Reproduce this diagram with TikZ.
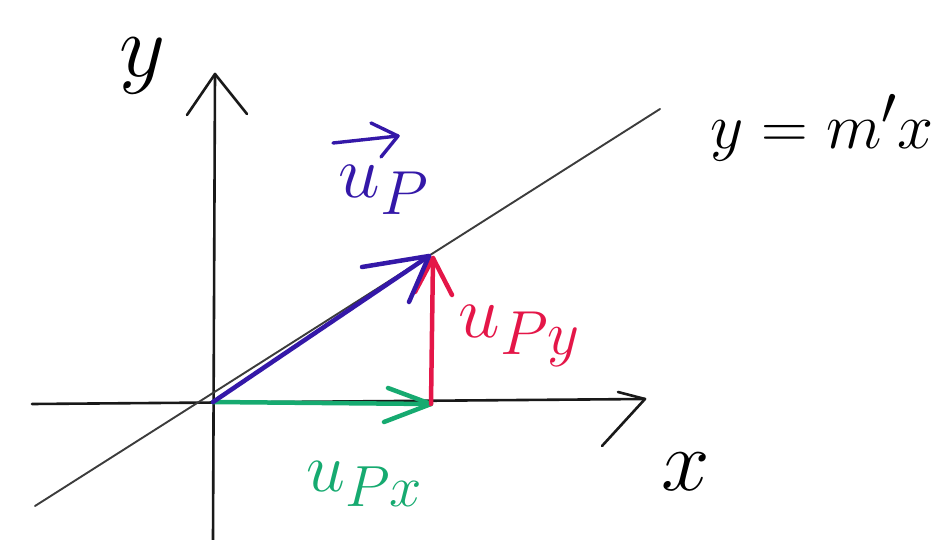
\documentclass[tikz,border=0pt]{standalone}
\usepackage{amsmath}
\definecolor{vblue}{RGB}{52,24,168}
\definecolor{vred}{RGB}{228,22,72}
\definecolor{vgreen}{RGB}{22,170,112}
\definecolor{ink}{RGB}{25,25,25}
\tikzset{
  axis/.style={draw=ink,line width=2.6pt,line cap=round,line join=round},
  guide/.style={draw=ink!85,line width=1.9pt,line cap=round},
  vec/.style={line width=4.5pt,line cap=round,line join=round},
  lab/.style={font=\Huge,inner sep=0pt},
}
\begin{document}
\begin{tikzpicture}[x=1pt,y=-1pt]
\useasboundingbox (0,0) rectangle (932,540);
% key points
\coordinate (O) at (213,402);
\coordinate (P) at (429,256);
\coordinate (Q) at (431,404);
\coordinate (xl) at (32,404);
\coordinate (xt) at (645,399);
\coordinate (yb) at (213,540);
\coordinate (yt) at (215,74);
\coordinate (la) at (35,506);
\coordinate (lb) at (660,109);
% barbs
\coordinate (xb1) at (618,392);
\coordinate (xb2) at (602,446);
\coordinate (yb1) at (187,115);
\coordinate (yb2) at (247,114);
\coordinate (pb1) at (362,267);
\coordinate (pb2) at (409,302);
\coordinate (rt) at (433,258);
\coordinate (rb1) at (415,292);
\coordinate (rb2) at (452,295);
\coordinate (gb1) at (388,388);
\coordinate (gb2) at (384,422);
% arrow over u_P
\coordinate (ua) at (333,143);
\coordinate (ub) at (398,136);
\coordinate (ub1) at (371,123);
\coordinate (ub2) at (381,157);
% axes
\draw[axis] (xl) -- (xt);
\draw[axis] (xb1) -- (xt) -- (xb2);
\draw[axis] (yb) -- (yt);
\draw[axis] (yb1) -- (yt) -- (yb2);
% line y = m'x
\draw[guide] (la) -- (lb);
% vectors
\draw[vec,vgreen] (O) -- (Q);
\draw[vec,vgreen] (gb1) -- (Q) -- (gb2);
\draw[vec,vred] (Q) -- (rt);
\draw[vec,vred] (rb1) -- (rt) -- (rb2);
\draw[vec,vblue] (O) -- (P);
\draw[vec,vblue] (pb1) -- (P) -- (pb2);
% labels
\node[lab,scale=3.6] (ylab) at (142,66) {$y$};
\node[lab,scale=3.5] (xlab) at (686,472) {$x$};
\node[lab,scale=2.6] (eq) at (822,128) {$y = m'x$};
\node[lab,scale=3,text=vblue] (up) at (384,190) {$u_P$};
\draw[vblue,line width=3.4pt,line cap=round,line join=round] (ua) -- (ub);
\draw[vblue,line width=3.4pt,line cap=round,line join=round] (ub1) -- (ub) -- (ub2);
\node[lab,scale=3,text=vred] (upy) at (520,336) {$u_{Py}$};
\node[lab,scale=2.8,text=vgreen] (upx) at (365,484) {$u_{Px}$};
\end{tikzpicture}
\end{document}
